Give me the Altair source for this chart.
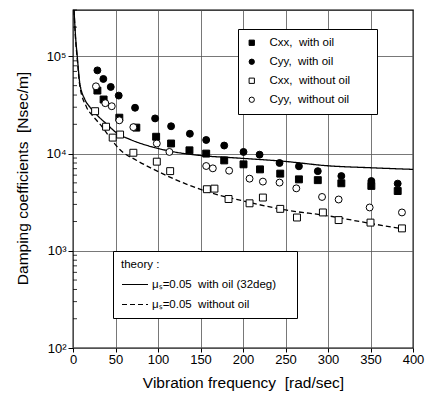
import altair as alt
import pandas as pd

cxx_oil_x = [28.7, 36, 54.5, 74.5, 97.8, 115.4, 137, 156.7, 177.9, 200.6, 220, 243.8, 265.8, 288, 315.7, 351, 382]
cxx_oil_y = [44500, 36000, 23400, 18500, 14900, 12700, 10800, 10000, 8510, 7750, 6880, 6220, 5430, 5330, 4950, 4650, 4120]

cyy_oil_x = [28.7, 35.7, 44.4, 53.8, 73, 96.6, 115.4, 137.5, 156.7, 177.9, 200.6, 219.5, 243, 265.8, 288, 315.7, 351, 382]
cyy_oil_y = [71800, 58600, 48500, 39500, 29600, 23000, 19100, 16000, 13800, 12100, 10400, 9750, 8000, 7400, 6600, 5870, 5220, 4910]

cxx_dry_x = [26, 38.9, 46.7, 55.4, 71, 98.6, 114.3, 157.5, 166.4, 183, 207.7, 223.4, 243.8, 263.5, 294, 312.5, 350, 387]
cxx_dry_y = [27300, 18900, 14600, 15700, 10200, 8260, 6600, 4300, 4360, 3410, 3080, 3530, 2700, 2200, 2480, 2070, 1950, 1700]

cyy_dry_x = [27, 38, 45.6, 54.5, 71, 98.6, 113.4, 156.7, 164.5, 183.7, 207.7, 223.4, 243, 262.7, 293, 312.5, 349, 387]
cyy_dry_y = [49200, 33000, 30700, 22000, 18700, 12700, 10400, 7450, 7050, 6670, 5520, 5150, 5030, 4390, 3580, 3370, 2790, 2480]

NB = "\u00a0"
BLANK = "\u2800"
series_names = ["Cxx," + NB + " with oil",
                "Cyy," + NB + " with oil",
                "Cxx," + NB + " without oil" + NB * 3 + BLANK,
                "Cyy," + NB + " without oil" + NB * 3 + BLANK]

# ---- theory curves ----
oil_x = [1.2, 3, 5, 8, 14, 20, 28, 40, 51, 67, 95, 114, 153, 185, 250, 299, 350, 400]
oil_y = [300000, 160000, 100000, 53000, 36000, 30000, 25000, 20000, 16400, 14000, 11600, 10600, 9500, 9100, 8300, 7500, 7150, 6880]

dry_x = [1.2, 3, 5, 8, 16, 24, 34, 45, 55, 75, 95, 134, 161, 200, 250, 300, 350, 390]
dry_y = [300000, 150000, 95000, 50000, 30000, 24000, 19000, 14000, 11000, 8500, 6880, 4830, 3980, 3260, 2630, 2290, 1910, 1670]

theory_names = ["\u03bc\u209b=0.05" + NB + " with oil (32deg)" + NB + BLANK,
                "\u03bc\u209b=0.05" + NB + " without oil"]

# ---- axis ticks ----
x_ticks = [0, 50, 100, 150, 200, 250, 300, 350, 400]
y_major = [100, 1000, 10000, 100000]
y_minor = [200, 300, 400, 500, 600, 700, 800, 900,
           2000, 3000, 4000, 5000, 6000, 7000, 8000, 9000,
           20000, 30000, 40000, 50000, 60000, 70000, 80000, 90000,
           200000, 300000]

rows = []
for name, xs, ys in zip(series_names,
                        [cxx_oil_x, cyy_oil_x, cxx_dry_x, cyy_dry_x],
                        [cxx_oil_y, cyy_oil_y, cxx_dry_y, cyy_dry_y]):
    for a, b in zip(xs, ys):
        rows.append({"series": name, "freq": a, "damp": b})
pts = pd.DataFrame(rows)

trows = []
for name, xs, ys in zip(theory_names, [oil_x, dry_x], [oil_y, dry_y]):
    for a, b in zip(xs, ys):
        trows.append({"theory": name, "freq": a, "damp": b})
theory = pd.DataFrame(trows)

FONT = "Liberation Sans"

x_scale = alt.Scale(domain=[0, 400], nice=False, zero=False)
y_scale = alt.Scale(type="log", domain=[100, 300000], nice=False)

x_axis = alt.Axis(values=x_ticks, title="Vibration frequency" + NB + " [rad/sec]", grid=True,
                  domain=False, tickSize=4, tickColor="black", labelPadding=1,
                  labelFontSize=13, labelColor="black", labelFont=FONT,
                  titleFont=FONT, titleFontSize=15.5, titleFontWeight="normal",
                  titleColor="black", titlePadding=9, labelFlush=False)
y_axis = alt.Axis(values=y_major, title="Damping coefficients" + NB + " [Nsec/m]", grid=True,
                  domain=False, tickSize=5, tickColor="black", labelPadding=2,
                  labelExpr="'10' + (datum.value == 100 ? '\u00b2' : datum.value == 1000 ? '\u00b3' : datum.value == 10000 ? '\u2074' : '\u2075')",
                  labelFontSize=13, labelColor="black", labelFont=FONT,
                  titleFont=FONT, titleFontSize=15.5, titleFontWeight="normal",
                  titleColor="black", titleX=-51, titleY=168, titleAngle=-90,
                  titleAlign="center", titleBaseline="middle", labelFlush=False)

pt_legend = alt.Legend(orient="none", legendX=165, legendY=19, title=None,
                       padding=8, strokeColor="black", fillColor="white",
                       symbolSize=28, symbolStrokeColor="black", symbolStrokeWidth=1,
                       symbolOffset=0, labelOffset=12, rowPadding=6, labelLimit=300,
                       labelFont=FONT, labelFontSize=11.5, labelColor="black")

points = alt.Chart(pts).mark_point(filled=True, size=48, strokeWidth=1, opacity=1).encode(
    x=alt.X("freq:Q", scale=x_scale, axis=x_axis),
    y=alt.Y("damp:Q", scale=y_scale, axis=y_axis),
    shape=alt.Shape("series:N", sort=series_names,
                    scale=alt.Scale(domain=series_names, range=["square", "circle", "square", "circle"]),
                    legend=pt_legend),
    fill=alt.Fill("series:N", sort=series_names,
                  scale=alt.Scale(domain=series_names, range=["black", "black", "white", "white"]),
                  legend=pt_legend),
    stroke=alt.Stroke("series:N", sort=series_names,
                      scale=alt.Scale(domain=series_names, range=["black", "black", "black", "black"]),
                      legend=pt_legend),
)

th_legend = alt.Legend(orient="none", legendX=40, legendY=241, title="theory :",
                       padding=8, strokeColor="black", fillColor="white",
                       symbolType="stroke", symbolSize=676, symbolStrokeColor="black",
                       symbolStrokeWidth=1.2, labelOffset=3, rowPadding=-9, labelLimit=300,
                       titleFont=FONT, titleFontSize=11.5, titleFontWeight="normal",
                       titleColor="black", titlePadding=0,
                       labelFont=FONT, labelFontSize=11.5, labelColor="black")

lines = alt.Chart(theory).mark_line(color="black", strokeWidth=1.3, clip=True,
                                    interpolate="monotone").encode(
    x=alt.X("freq:Q", scale=x_scale),
    y=alt.Y("damp:Q", scale=y_scale),
    strokeDash=alt.StrokeDash("theory:N", sort=theory_names,
                              scale=alt.Scale(domain=theory_names, range=[[1, 0], [5, 3]]),
                              legend=th_legend),
)

minor = alt.Chart(pd.DataFrame({"damp": y_minor})).mark_rule(color="black", strokeWidth=0.8).encode(
    y=alt.Y("damp:Q", scale=y_scale),
    x=alt.value(0),
    x2=alt.value(4),
)

chart = alt.layer(lines, points, minor).properties(
    width=340, height=338,
    autosize=alt.AutoSizeParams(type="none"),
    padding={"left": 73, "top": 10, "right": 16, "bottom": 49},
    background="white",
).configure_view(
    stroke="black", strokeWidth=1.3,
).configure_axis(
    gridColor="#555555", gridWidth=0.8, gridOpacity=1,
)

chart.save("out.html", embed_options={"renderer": "svg", "actions": False})
